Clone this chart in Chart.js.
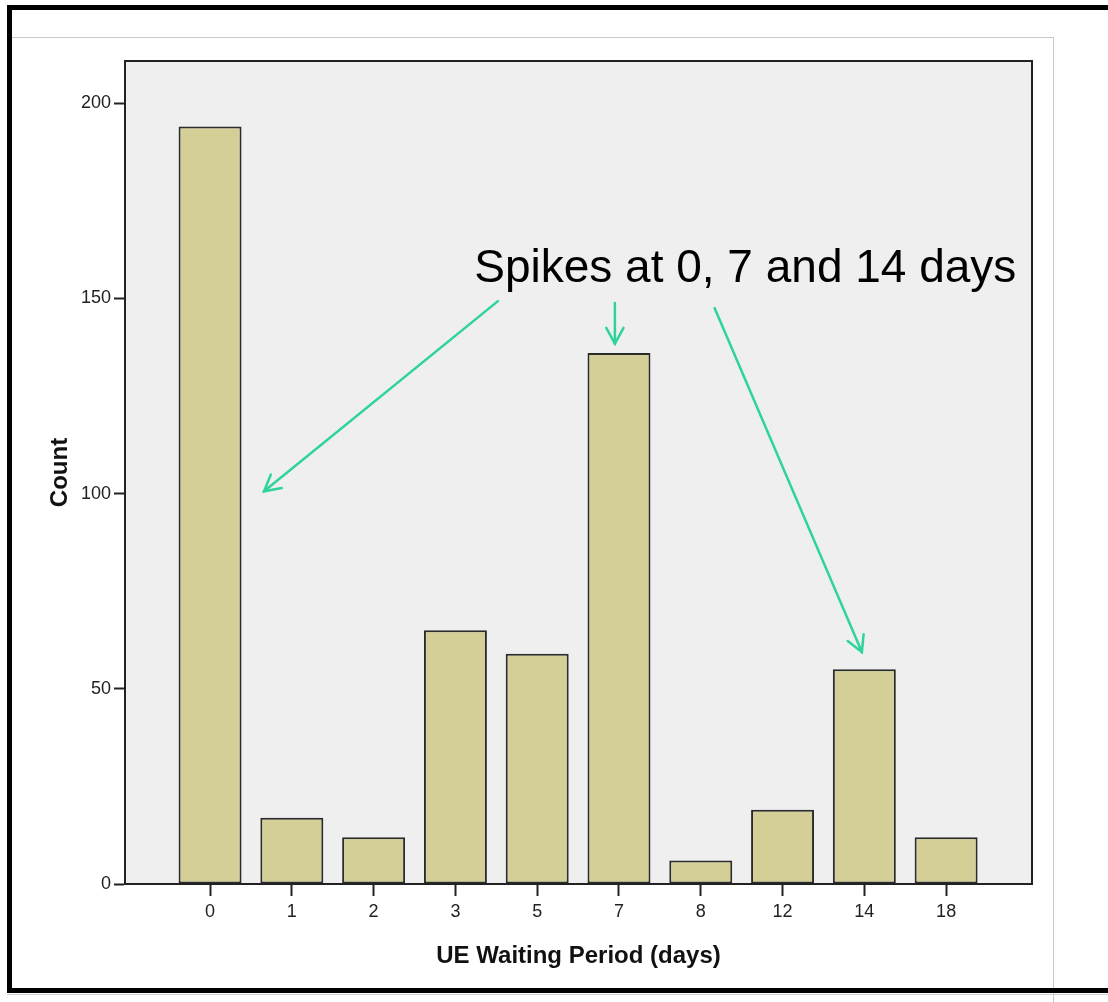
<!DOCTYPE html>
<html>
<head>
<meta charset="utf-8">
<script src="https://cdn.jsdelivr.net/npm/chart.js@4.4.1/dist/chart.umd.min.js"></script>
<style>
  html, body { margin: 0; padding: 0; background: #ffffff; }
  #wrap { position: relative; width: 1108px; height: 1002px; overflow: hidden; }
  #wrap canvas { position: absolute; left: 0; top: 0; }
  .ln { position: absolute; pointer-events: none; }
</style>
</head>
<body>
<div id="wrap">
  <canvas id="c" width="1108" height="1002"></canvas>
  <div class="ln" style="left:12px;top:37px;width:1041px;height:1px;background:#c8c8c8"></div>
  <div class="ln" style="left:1053px;top:37px;width:1px;height:965px;background:#c8c8c8"></div>
  <div class="ln" style="left:7px;top:994px;width:1101px;height:1px;background:#d0d0d0"></div>
  <div class="ln" style="left:7px;top:5px;width:1101px;height:5px;background:#000"></div>
  <div class="ln" style="left:7px;top:5px;width:5px;height:988px;background:#000"></div>
  <div class="ln" style="left:7px;top:988px;width:1101px;height:5px;background:#000"></div>
</div>
<script>
// ---- data ----
const categories = ["0", "1", "2", "3", "5", "7", "8", "12", "14", "18"];
const counts = [194, 17, 12, 65, 59, 136, 6, 19, 55, 12];
const yTickValues = [0, 50, 100, 150, 200];
const xTitle = "UE Waiting Period (days)";
const yTitle = "Count";
const noteText = "Spikes at 0, 7 and 14 days";

// annotation placement, in data units (x = category index, y = count)
const note = {
  text: { x: 3.23, y: 154.2 },
  arrows: [
    { from: [3.52, 149.3], to: [0.66, 100.6] },
    { from: [4.95, 148.8], to: [4.95, 138.4] },
    { from: [6.17, 147.5], to: [7.97, 59.4] }
  ]
};

const barData = counts.map((v, i) => ({ x: i, y: v }));

const framePlugin = {
  id: 'frame',
  beforeDraw(chart) {
    const { ctx, chartArea: a } = chart;
    ctx.save();
    ctx.fillStyle = '#efefef';
    ctx.fillRect(a.left, a.top, a.right - a.left, a.bottom - a.top);
    ctx.restore();
  },
  afterDraw(chart) {
    const { ctx, chartArea: a, scales } = chart;
    ctx.save();
    ctx.strokeStyle = '#222';
    ctx.lineWidth = 2;
    ctx.strokeRect(a.left, a.top, a.right - a.left, a.bottom - a.top);

    // annotation text
    const xs = scales.x, ys = scales.y;
    ctx.fillStyle = '#000';
    ctx.font = '46px "Liberation Sans", Arial, sans-serif';
    ctx.textBaseline = 'alphabetic';
    ctx.textAlign = 'left';
    ctx.fillText(noteText, xs.getPixelForValue(note.text.x), ys.getPixelForValue(note.text.y));

    // arrows
    ctx.strokeStyle = '#2fd39c';
    ctx.lineWidth = 2.5;
    ctx.lineCap = 'round';
    for (const ar of note.arrows) {
      const x1 = xs.getPixelForValue(ar.from[0]), y1 = ys.getPixelForValue(ar.from[1]);
      const x2 = xs.getPixelForValue(ar.to[0]), y2 = ys.getPixelForValue(ar.to[1]);
      ctx.beginPath();
      ctx.moveTo(x1, y1);
      ctx.lineTo(x2, y2);
      ctx.stroke();
      const ang = Math.atan2(y2 - y1, x2 - x1);
      const L = 18, s = 0.5;
      ctx.beginPath();
      ctx.moveTo(x2 - L * Math.cos(ang - s), y2 - L * Math.sin(ang - s));
      ctx.lineTo(x2, y2);
      ctx.lineTo(x2 - L * Math.cos(ang + s), y2 - L * Math.sin(ang + s));
      ctx.stroke();
    }
    ctx.restore();
  }
};

new Chart(document.getElementById('c'), {
  type: 'bar',
  data: {
    datasets: [{
      data: barData,
      backgroundColor: '#d3cf96',
      borderColor: '#2b2b2b',
      borderWidth: 2,
      borderSkipped: false,
      categoryPercentage: 1,
      barPercentage: 0.77
    }]
  },
  plugins: [framePlugin],
  options: {
    responsive: false,
    animation: false,
    devicePixelRatio: 1,
    layout: { padding: { left: 0, top: 61, right: 76, bottom: 0 } },
    plugins: { legend: { display: false }, tooltip: { enabled: false } },
    scales: {
      x: {
        type: 'linear',
        offset: false,
        min: -1.04,
        max: 10.05,
        afterBuildTicks(scale) { scale.ticks = categories.map((_, i) => ({ value: i })); },
        afterFit(scale) { scale.height = 118; },
        ticks: {
          autoSkip: false,
          maxRotation: 0,
          padding: 5,
          color: '#222',
          font: { family: '"Liberation Sans", Arial, sans-serif', size: 18 },
          callback: (v) => categories[Math.round(v)] ?? ''
        },
        grid: { offset: false, drawOnChartArea: false, drawTicks: true, tickLength: 12, tickColor: '#222', tickWidth: 2 },
        border: { display: true, color: '#222', width: 2 },
        title: {
          display: true,
          text: xTitle,
          color: '#111',
          font: { family: '"Liberation Sans", Arial, sans-serif', size: 24, weight: 'bold' },
          padding: { top: 0, bottom: 31 }
        }
      },
      y: {
        min: 0,
        max: 210.8,
        afterBuildTicks(scale) { scale.ticks = yTickValues.map(v => ({ value: v })); },
        afterFit(scale) { scale.width = 125; },
        ticks: {
          padding: 3,
          color: '#222',
          font: { family: '"Liberation Sans", Arial, sans-serif', size: 18 }
        },
        grid: { drawOnChartArea: false, drawTicks: true, tickLength: 11, tickColor: '#222', tickWidth: 2 },
        border: { display: true, color: '#222', width: 2 },
        title: {
          display: true,
          text: yTitle,
          color: '#111',
          font: { family: '"Liberation Sans", Arial, sans-serif', size: 24, weight: 'bold' },
          padding: { top: 46, bottom: 0 }
        }
      }
    }
  }
});
</script>
</body>
</html>
